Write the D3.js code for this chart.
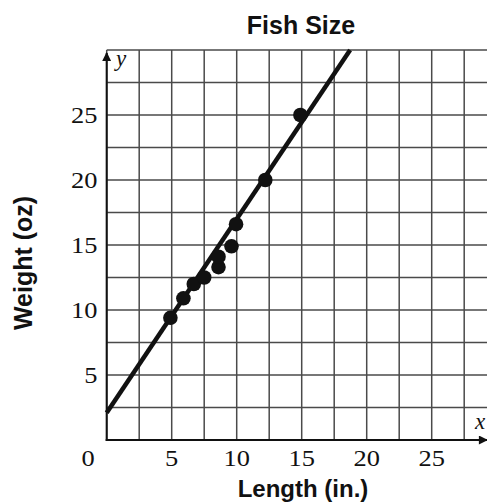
<!DOCTYPE html>
<html>
<head>
<meta charset="utf-8">
<script src="https://cdn.jsdelivr.net/npm/d3@7"></script>
<style>
  html, body { margin: 0; padding: 0; background: #fff; }
  svg { display: block; }
</style>
</head>
<body>
<svg id="chart" width="487" height="504"></svg>
<script>
// ---- data ----
const lengths = [4.9, 5.9, 6.7, 7.5, 8.6, 8.6, 9.6, 9.95, 12.2, 14.9];
const weights = [9.4, 10.9, 12.0, 12.5, 13.3, 14.1, 14.9, 16.6, 20.0, 25.0];
const fitSlope = 1.49;
const fitIntercept = 2.1;
const xTickValues = [5, 10, 15, 20, 25];
const yTickValues = [5, 10, 15, 20, 25];
const gridStep = 2.5;
const title = "Fish Size";
const xTitle = "Length (in.)";
const yTitle = "Weight (oz)";

// ---- layout ----
const svg = d3.select("#chart");
const x = d3.scaleLinear().domain([0, 30]).range([106.7, 496.7]);
const y = d3.scaleLinear().domain([0, 30]).range([440, 50]);

const defs = svg.append("defs");
defs.append("marker").attr("id", "arrow")
  .attr("viewBox", "0 0 10 10").attr("refX", 9).attr("refY", 5)
  .attr("markerWidth", 11).attr("markerHeight", 9).attr("markerUnits", "userSpaceOnUse")
  .attr("orient", "auto")
  .append("path").attr("d", "M0,0 L10,5 L0,10 Z").attr("fill", "#111");

// grid
const gridVals = d3.range(0, 30.01, gridStep);
const g = svg.append("g");
g.selectAll("line.v").data(gridVals).join("line")
  .attr("x1", d => x(d)).attr("x2", d => x(d))
  .attr("y1", y(0)).attr("y2", y(30))
  .attr("stroke", "#4a4a4a").attr("stroke-width", 1.5);
g.selectAll("line.h").data(gridVals.filter(d => d > 0)).join("line")
  .attr("x1", x(0)).attr("x2", x(30))
  .attr("y1", d => y(d)).attr("y2", d => y(d))
  .attr("stroke", "#4a4a4a").attr("stroke-width", 1.5);

// axes with arrows
svg.append("line").attr("x1", x(0) - 1).attr("x2", 487).attr("y1", y(0)).attr("y2", y(0))
  .attr("stroke", "#111").attr("stroke-width", 2).attr("marker-end", "url(#arrow)");
svg.append("line").attr("x1", x(0)).attr("x2", x(0)).attr("y1", y(0) + 1).attr("y2", 53)
  .attr("stroke", "#111").attr("stroke-width", 2).attr("marker-end", "url(#arrow)");

// tick labels
const serif = "'Liberation Serif', 'Times New Roman', serif";
const tickSize = 23;
const tickStretch = 1.15;
svg.selectAll("text.xt").data(xTickValues).join("text")
  .attr("transform", d => `translate(${x(d)},466) scale(${tickStretch},1)`)
  .attr("text-anchor", "middle").attr("font-family", serif).attr("font-size", tickSize)
  .attr("fill", "#111").text(d => d);
svg.selectAll("text.yt").data(yTickValues).join("text")
  .attr("transform", d => `translate(97.5,${y(d) + 7.8}) scale(${tickStretch},1)`)
  .attr("text-anchor", "end").attr("font-family", serif).attr("font-size", tickSize)
  .attr("fill", "#111").text(d => d);
svg.append("text").attr("transform", `translate(88,466) scale(${tickStretch},1)`)
  .attr("text-anchor", "middle")
  .attr("font-family", serif).attr("font-size", tickSize).attr("fill", "#111").text("0");

// axis letters
svg.append("text").attr("x", 116).attr("y", 66).attr("font-family", serif)
  .attr("font-style", "italic").attr("font-size", 23).attr("fill", "#111").text("y");
svg.append("text").attr("x", 475).attr("y", 429).attr("font-family", serif)
  .attr("font-style", "italic").attr("font-size", 23).attr("fill", "#111").text("x");

// line of fit
const xEnd = (30 - fitIntercept) / fitSlope;
svg.append("line")
  .attr("x1", x(0)).attr("y1", y(fitIntercept))
  .attr("x2", x(xEnd)).attr("y2", y(30))
  .attr("stroke", "#111").attr("stroke-width", 4.5);

// points
svg.selectAll("circle.pt").data(lengths.map((l, i) => [l, weights[i]])).join("circle")
  .attr("cx", d => x(d[0])).attr("cy", d => y(d[1])).attr("r", 7.3)
  .attr("fill", "#111");

// titles
const sans = "'Liberation Sans', Arial, Helvetica, sans-serif";
svg.append("text").attr("x", 301).attr("y", 34).attr("text-anchor", "middle")
  .attr("font-family", sans).attr("font-weight", "bold").attr("font-size", 25)
  .attr("fill", "#111").text(title);
svg.append("text").attr("x", 303).attr("y", 497).attr("text-anchor", "middle")
  .attr("font-family", sans).attr("font-weight", "bold").attr("font-size", 24)
  .attr("fill", "#111").text(xTitle);
svg.append("text").attr("transform", "translate(32,263) rotate(-90)")
  .attr("text-anchor", "middle")
  .attr("font-family", sans).attr("font-weight", "bold").attr("font-size", 25)
  .attr("fill", "#111").text(yTitle);
</script>
</body>
</html>
